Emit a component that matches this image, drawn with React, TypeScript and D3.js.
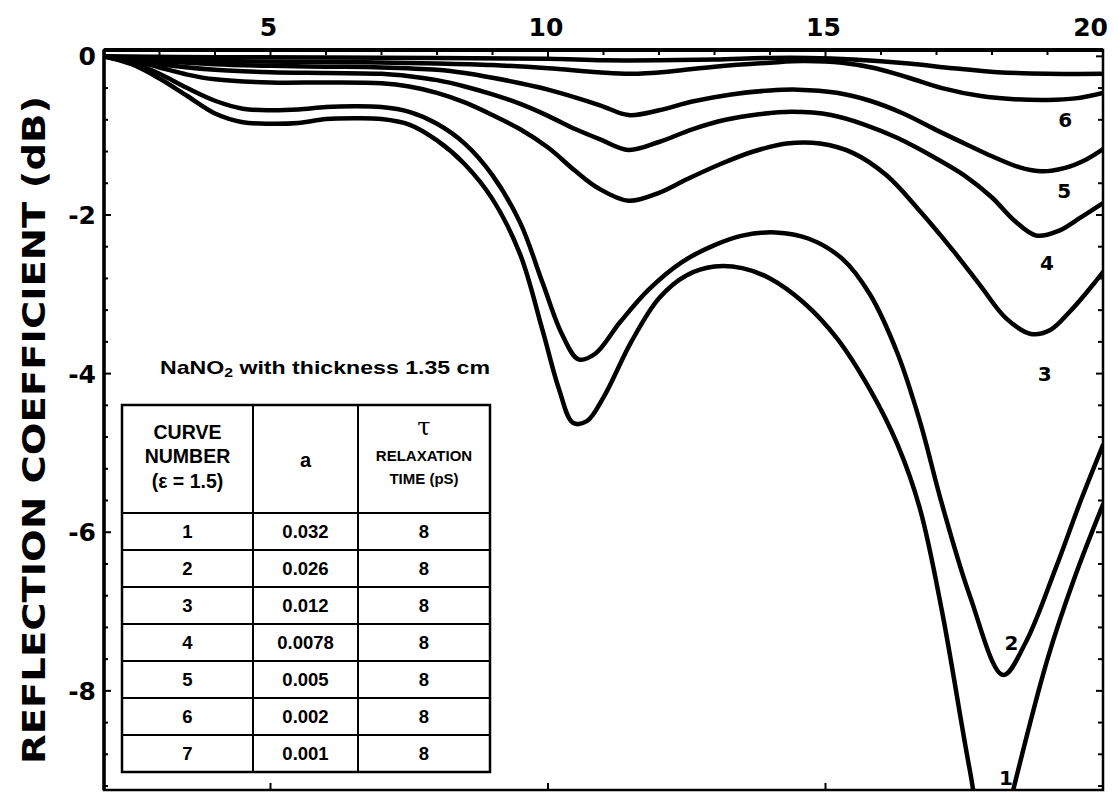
import React from 'react';
import * as d3 from 'd3';

const W = 1119;
const H = 804;
const PLOT = { left: 104, right: 1103, top: 50, bottom: 790 };

// axis ticks
const xTickValues = [5, 10, 15, 20];
const xMinorTicks = d3.range(3, 20, 1);
const yTickValues = [0, -2, -4, -6, -8];
const yMinorTicks = d3.range(0, -9.21, -0.4);

type Pt = [number, number];

// frequency (GHz) vs reflection coefficient (dB)
const curve1: Pt[] = [[2,0],[2.5,-0.1],[3,-0.28],[3.5,-0.5],[4,-0.72],[4.5,-0.83],[5,-0.85],[5.5,-0.84],[6,-0.79],[6.5,-0.78],[7,-0.79],[7.5,-0.86],[8,-1.06],[8.5,-1.36],[9,-1.8],[9.5,-2.5],[9.9,-3.45],[10.2,-4.2],[10.45,-4.62],[10.7,-4.6],[11.0,-4.3],[11.5,-3.6],[12.0,-3.05],[12.5,-2.76],[13.0,-2.65],[13.5,-2.67],[14.0,-2.8],[14.6,-3.1],[15.2,-3.55],[15.8,-4.2],[16.3,-4.9],[16.7,-5.7],[17.1,-7.0],[17.6,-9.0],[18.0,-10.4],[18.4,-9.2],[19.0,-7.6],[19.5,-6.55],[20,-5.65]];
const curve2: Pt[] = [[2,0],[2.5,-0.08],[3,-0.22],[3.5,-0.4],[4,-0.56],[4.5,-0.66],[5,-0.68],[5.5,-0.67],[6,-0.64],[6.5,-0.63],[7,-0.64],[7.5,-0.7],[8,-0.85],[8.5,-1.1],[9,-1.5],[9.5,-2.1],[9.9,-2.85],[10.25,-3.5],[10.55,-3.82],[10.85,-3.75],[11.3,-3.35],[11.8,-2.95],[12.4,-2.6],[13.0,-2.38],[13.5,-2.26],[14.1,-2.22],[14.7,-2.3],[15.3,-2.55],[15.8,-3.0],[16.3,-3.75],[16.7,-4.6],[17.1,-5.65],[17.6,-6.8],[18.2,-7.8],[18.6,-7.4],[19.15,-6.45],[19.6,-5.6],[20,-4.9]];
const curve3: Pt[] = [[2,0],[2.5,-0.05],[3,-0.14],[3.5,-0.23],[4,-0.29],[5,-0.33],[6,-0.33],[7,-0.34],[7.5,-0.38],[8,-0.46],[8.5,-0.58],[9,-0.74],[9.5,-0.92],[10,-1.15],[10.5,-1.45],[10.9,-1.66],[11.45,-1.82],[12,-1.72],[12.5,-1.55],[13.1,-1.36],[13.7,-1.2],[14.3,-1.1],[14.9,-1.1],[15.5,-1.22],[16.1,-1.5],[16.7,-1.95],[17.3,-2.45],[17.8,-2.9],[18.25,-3.3],[18.7,-3.5],[19.05,-3.45],[19.4,-3.22],[19.7,-2.98],[20,-2.72]];
const curve4: Pt[] = [[2,0],[2.5,-0.04],[3,-0.1],[4,-0.17],[5,-0.2],[6,-0.21],[7,-0.22],[7.5,-0.25],[8,-0.3],[8.5,-0.38],[9,-0.48],[9.5,-0.6],[10,-0.75],[10.5,-0.92],[10.95,-1.05],[11.45,-1.18],[12,-1.08],[12.6,-0.92],[13.2,-0.8],[13.8,-0.73],[14.4,-0.7],[15.1,-0.74],[15.7,-0.86],[16.3,-1.03],[16.9,-1.25],[17.5,-1.5],[18.0,-1.78],[18.4,-2.07],[18.8,-2.26],[19.2,-2.2],[19.6,-2.03],[20,-1.85]];
const curve5: Pt[] = [[2,0],[3,-0.06],[4,-0.1],[5,-0.12],[6,-0.13],[7,-0.14],[8,-0.17],[8.5,-0.21],[9,-0.27],[9.5,-0.34],[10,-0.42],[10.5,-0.52],[10.95,-0.62],[11.45,-0.74],[12,-0.68],[12.6,-0.57],[13.3,-0.48],[14,-0.43],[14.5,-0.42],[15.2,-0.46],[15.8,-0.56],[16.4,-0.72],[17.0,-0.93],[17.6,-1.13],[18.0,-1.26],[18.5,-1.4],[18.9,-1.45],[19.3,-1.41],[19.7,-1.3],[20,-1.17]];
const curve6: Pt[] = [[2,0],[3,-0.04],[4,-0.06],[6,-0.07],[8,-0.09],[9,-0.11],[10,-0.15],[10.9,-0.2],[11.5,-0.22],[12.2,-0.19],[13,-0.13],[14,-0.08],[14.6,-0.06],[15.3,-0.08],[15.9,-0.15],[16.5,-0.27],[17.1,-0.4],[17.8,-0.5],[18.4,-0.54],[19,-0.55],[19.5,-0.53],[20,-0.46]];
const curve7: Pt[] = [[2,0],[4,-0.01],[8,-0.02],[10,-0.03],[11,-0.05],[12,-0.05],[13,-0.04],[14,-0.02],[14.7,-0.02],[15.5,-0.04],[16.5,-0.09],[17.3,-0.15],[18.1,-0.2],[19,-0.22],[20,-0.22]];

const curves: Pt[][] = [curve1, curve2, curve3, curve4, curve5, curve6, curve7];

const curveLabelText = ['1', '2', '3', '4', '5', '6'];
const curveLabelX = [18.25, 18.35, 18.95, 18.99, 19.3, 19.32];
const curveLabelY = [-9.1, -7.4, -4.0, -2.6, -1.7, -0.8];

// table content
const tableTitle = 'NaNO';
const tableCurveNumbers = ['1', '2', '3', '4', '5', '6', '7'];
const tableA = ['0.032', '0.026', '0.012', '0.0078', '0.005', '0.002', '0.001'];
const tableTau = ['8', '8', '8', '8', '8', '8', '8'];

const FONT = "'DejaVu Sans', sans-serif";
const TFONT = "'Liberation Sans', Arial, sans-serif";

export default function App() {
  const x = d3.scaleLinear().domain([2, 20]).range([PLOT.left, PLOT.right]);
  const y = d3.scaleLinear().domain([0.08, -9.25]).range([PLOT.top, PLOT.bottom]);
  const line = d3
    .line<Pt>()
    .x((d) => x(d[0]))
    .y((d) => y(d[1]))
    .curve(d3.curveCatmullRom.alpha(0.5));

  const tL = 122, c1 = 253, c2 = 358, tR = 490, tT = 405, hB = 513, rowH = 37;
  const tB = hB + rowH * tableCurveNumbers.length;

  return (
    <svg
      width={W}
      height={H}
      style={{ position: 'absolute', left: 0, top: 0, background: '#fff' }}
    >
      <rect x={0} y={0} width={W} height={H} fill="#fff" />
      <defs>
        <clipPath id="plotClip">
          <rect x={PLOT.left} y={PLOT.top} width={PLOT.right - PLOT.left} height={PLOT.bottom - PLOT.top} />
        </clipPath>
      </defs>

      {/* curves */}
      <g clipPath="url(#plotClip)">
        {curves.map((c, i) => (
          <path key={i} d={line(c) || ''} fill="none" stroke="#000" strokeWidth={4.5} strokeLinejoin="round" strokeLinecap="round" />
        ))}
      </g>

      {/* frame */}
      <rect x={PLOT.left} y={PLOT.top} width={PLOT.right - PLOT.left} height={PLOT.bottom - PLOT.top} fill="none" stroke="#000" strokeWidth={2.5} />
      <line x1={PLOT.left} x2={PLOT.left} y1={PLOT.top} y2={PLOT.bottom} stroke="#000" strokeWidth={3.5} />
      <line x1={PLOT.left} x2={PLOT.right} y1={PLOT.top} y2={PLOT.top} stroke="#000" strokeWidth={4} />

      {/* top ticks */}
      {xMinorTicks.map((v) => (
        <line key={'tx' + v} x1={x(v)} x2={x(v)} y1={PLOT.top} y2={PLOT.top + (v % 5 === 0 ? 8 : 5)} stroke="#000" strokeWidth={2} />
      ))}
      {/* bottom ticks */}
      {[5, 10, 15].map((v) => (
        <line key={'bx' + v} x1={x(v)} x2={x(v)} y1={PLOT.bottom} y2={PLOT.bottom - 7} stroke="#000" strokeWidth={2} />
      ))}
      {/* left & right ticks */}
      {yMinorTicks.map((v, i) => {
        const major = i % 5 === 0;
        return (
          <g key={'ty' + i}>
            <line x1={PLOT.left} x2={PLOT.left + (major ? 7 : 4)} y1={y(v)} y2={y(v)} stroke="#000" strokeWidth={2} />
            <line x1={PLOT.right} x2={PLOT.right - (major ? 7 : 5)} y1={y(v)} y2={y(v)} stroke="#000" strokeWidth={2} />
          </g>
        );
      })}

      {/* x tick labels */}
      {xTickValues.map((v) => (
        <text
          key={'xl' + v}
          x={v === 20 ? 1108 : x(v) - 2}
          y={36}
          textAnchor={v === 20 ? 'end' : 'middle'}
          fontFamily={FONT}
          fontWeight="bold"
          fontSize={25}
        >
          {v}
        </text>
      ))}
      {/* y tick labels */}
      {yTickValues.map((v) => (
        <text
          key={'yl' + v}
          x={96}
          y={y(v)}
          dy="0.36em"
          textAnchor="end"
          fontFamily={FONT}
          fontWeight="bold"
          fontSize={25}
        >
          {v === 0 ? '0' : '-' + Math.abs(v)}
        </text>
      ))}

      {/* y axis title */}
      <text
        transform="translate(45, 430) rotate(-90)"
        textAnchor="middle"
        fontFamily={FONT}
        fontWeight="bold"
        fontSize={32}
        textLength={668}
        lengthAdjust="spacingAndGlyphs"
      >
        REFLECTION COEFFICIENT (dB)
      </text>

      {/* curve labels */}
      {curveLabelText.map((t, i) => (
        <text
          key={'cl' + t}
          x={x(curveLabelX[i])}
          y={y(curveLabelY[i])}
          dy="0.36em"
          textAnchor="middle"
          fontFamily={FONT}
          fontWeight="bold"
          fontSize={20}
        >
          {t}
        </text>
      ))}

      {/* table title */}
      <text x={160} y={374} fontFamily={TFONT} fontWeight="bold" fontSize={19} textLength={330} lengthAdjust="spacingAndGlyphs">
        {tableTitle}
        <tspan fontSize={13} dy={3}>2</tspan>
        <tspan dy={-3}> with thickness 1.35 cm</tspan>
      </text>

      {/* table */}
      <g fontFamily={TFONT} fontWeight="bold" fill="#000">
        <rect x={tL} y={tT} width={tR - tL} height={tB - tT} fill="#fff" stroke="#000" strokeWidth={2.5} />
        <line x1={c1} x2={c1} y1={tT} y2={tB} stroke="#000" strokeWidth={2} />
        <line x1={c2} x2={c2} y1={tT} y2={tB} stroke="#000" strokeWidth={2} />
        {tableCurveNumbers.map((_, i) => (
          <line key={'rl' + i} x1={tL} x2={tR} y1={hB + i * rowH} y2={hB + i * rowH} stroke="#000" strokeWidth={2} />
        ))}
        <text x={(tL + c1) / 2} y={439} textAnchor="middle" fontSize={19.5}>CURVE</text>
        <text x={(tL + c1) / 2} y={463} textAnchor="middle" fontSize={19.5}>NUMBER</text>
        <text x={(tL + c1) / 2} y={488} textAnchor="middle" fontSize={19.5}>(ε = 1.5)</text>
        <text x={(c1 + c2) / 2} y={467} textAnchor="middle" fontSize={20}>a</text>
        <text x={(c2 + tR) / 2} y={435} textAnchor="middle" fontSize={24} fontWeight="normal" fontFamily="'DejaVu Serif', serif">τ</text>
        <text x={(c2 + tR) / 2} y={461} textAnchor="middle" fontSize={15}>RELAXATION</text>
        <text x={(c2 + tR) / 2} y={484} textAnchor="middle" fontSize={15}>TIME  (pS)</text>
        {tableCurveNumbers.map((n, i) => {
          const cy = hB + i * rowH + rowH / 2 + 6.5;
          return (
            <g key={'row' + i}>
              <text x={(tL + c1) / 2} y={cy} textAnchor="middle" fontSize={18.5}>{n}</text>
              <text x={(c1 + c2) / 2} y={cy} textAnchor="middle" fontSize={18.5}>{tableA[i]}</text>
              <text x={(c2 + tR) / 2} y={cy} textAnchor="middle" fontSize={18.5}>{tableTau[i]}</text>
            </g>
          );
        })}
      </g>
    </svg>
  );
}
